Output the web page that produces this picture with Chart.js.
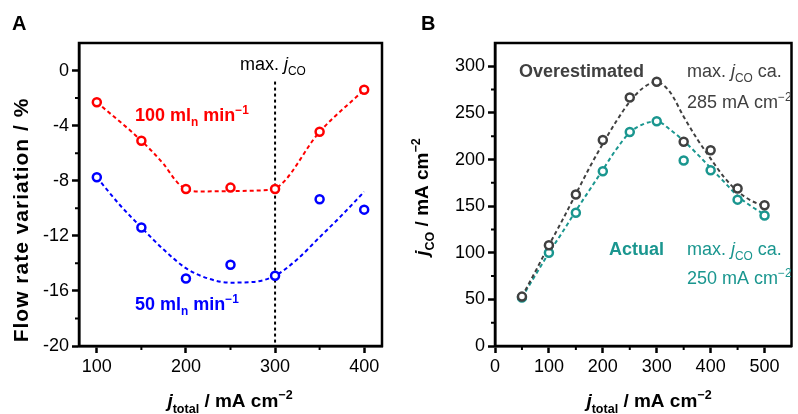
<!DOCTYPE html>
<html>
<head>
<meta charset="utf-8">
<script src="https://cdn.jsdelivr.net/npm/chart.js@4.4.1/dist/chart.umd.min.js"></script>
<style>
  html, body { margin: 0; padding: 0; background: #fff; }
  #wrap { position: relative; width: 798px; height: 414px; overflow: hidden; }
  canvas { position: absolute; top: 0; }
  #chartA { left: 0; }
  #chartB { left: 400px; }
</style>
</head>
<body>
<div id="wrap">
  <canvas id="chartA" width="400" height="414"></canvas>
  <canvas id="chartB" width="398" height="414"></canvas>
</div>
<script>
const FONT = '"Liberation Sans", Arial, Helvetica, sans-serif';

// panel A - flow rate variation
const flowX = [100, 150, 200, 250, 300, 350, 400];
const flow100 = [-2.3, -5.1, -8.6, -8.5, -8.6, -4.45, -1.4];
const flow50 = [-7.75, -11.4, -15.1, -14.1, -14.9, -9.35, -10.1];
const fit100X = [100, 150, 175, 190, 200, 215, 250, 285, 300, 350, 400];
const fit100 = [-2.3, -5.1, -6.8, -8.1, -8.6, -8.78, -8.75, -8.7, -8.56, -4.45, -1.4];
const fit50X = [100, 125, 150, 175, 200, 225, 250, 275, 300, 325, 350, 375, 400];
const fit50 = [-7.75, -9.7, -11.4, -13.0, -14.35, -15.1, -15.4, -15.35, -14.9, -13.7, -12.1, -10.5, -8.8];
const maxJcoX = [300, 300];
const maxJcoY = [-0.8, -20];
const ticksAx = [100, 200, 300, 400];
const ticksAy = [-20, -16, -12, -8, -4, 0];
const minorAx = [150, 250, 350];
const minorAy = [-18, -14, -10, -6, -2];

// panel B - jCO vs jtotal
const jTotal = [50, 100, 150, 200, 250, 300, 350, 400, 450, 500];
const jcoOver = [53, 108, 162.5, 221, 266.5, 283.5, 219, 210, 169, 151];
const jcoActual = [52, 100, 143, 187.5, 229.5, 241, 199, 188.5, 157, 140];
const fitBX = [50, 75, 100, 125, 150, 175, 200, 225, 250, 275, 300, 325, 350, 375, 400, 425, 450, 475, 500];
const fitOver = [53, 80, 108, 135, 163, 191, 217, 241, 262, 277, 283, 272, 246, 222, 201, 181, 166, 156, 150];
const fitActual = [52, 76, 100, 122, 145, 167, 189, 211, 229, 238, 241, 232, 220, 206, 191, 176, 161, 150, 141];
const ticksBx = [0, 100, 200, 300, 400, 500];
const ticksBy = [0, 50, 100, 150, 200, 250, 300];
const minorBx = [50, 150, 250, 350, 450];
const minorBy = [25, 75, 125, 175, 225, 275];

const RED = '#ff0000';
const BLUE = '#0000ff';
const DARK = '#404040';
const TEAL = '#1a968f';

const xy = (xs, ys) => xs.map((x, i) => ({ x: x, y: ys[i] }));

// draw text with bold/italic/sub/sup runs: flags B I _ ^
function richText(ctx, runs, x, y, size, color, opts = {}) {
    ctx.save();
    ctx.letterSpacing = (opts.spacing || 0) + 'px';
    const parts = runs.map(([t, f = '']) => {
        const small = f.includes('_') || f.includes('^');
        const s = small ? size * 0.66 : size;
        const font = (f.includes('I') ? 'italic ' : '') + (f.includes('B') ? 'bold ' : '') + s + 'px ' + FONT;
        ctx.font = font;
        return { t, font, w: ctx.measureText(t).width, dy: f.includes('_') ? size * 0.3 : (f.includes('^') ? -size * 0.4 : 0) };
    });
    const total = parts.reduce((a, p) => a + p.w, 0);
    ctx.translate(x, y);
    if (opts.rotate) ctx.rotate(opts.rotate);
    ctx.fillStyle = color;
    ctx.textBaseline = 'alphabetic';
    ctx.textAlign = 'left';
    let cx = opts.center ? -total / 2 : 0;
    parts.forEach(p => {
        ctx.font = p.font;
        ctx.fillText(p.t, cx, p.dy);
        cx += p.w;
    });
    ctx.restore();
}

function boxAndMinor(minX, minY, texts) {
    return {
        id: 'decor',
        afterDraw(chart) {
            const { ctx, chartArea: a, scales } = chart;
            ctx.save();
            ctx.strokeStyle = '#000';
            ctx.lineWidth = 2.5;
            ctx.strokeRect(a.left, a.top, a.right - a.left, a.bottom - a.top);
            ctx.lineWidth = 2;
            ctx.beginPath();
            minX.forEach(v => {
                const px = scales.x.getPixelForValue(v);
                ctx.moveTo(px, a.bottom);
                ctx.lineTo(px, a.bottom + 4);
            });
            minY.forEach(v => {
                const py = scales.y.getPixelForValue(v);
                ctx.moveTo(a.left - 4, py);
                ctx.lineTo(a.left, py);
            });
            ctx.stroke();
            ctx.restore();
            texts(ctx);
        }
    };
}

function axisOpts(min, max, ticks, size) {
    return {
        type: 'linear',
        min: min,
        max: max,
        afterBuildTicks: s => { s.ticks = ticks.map(v => ({ value: v })); },
        afterFit: s => { if (s.isHorizontal()) s.height = size; else s.width = size; },
        grid: { display: true, drawOnChartArea: false, drawTicks: true, tickLength: 7, tickWidth: 2.5, tickColor: '#000' },
        border: { display: true, color: '#000', width: 2.5 },
        ticks: { color: '#000', font: { family: FONT, size: 18 }, padding: 3, maxRotation: 0 }
    };
}

function pointSet(data, color) {
    return { data: data, showLine: false, pointRadius: 4, pointBorderWidth: 2.5, pointBorderColor: color, pointBackgroundColor: '#fff', order: 0 };
}

function fitSet(data, color, dash) {
    return { data: data, showLine: true, pointRadius: 0, borderColor: color, borderWidth: 2, borderDash: dash, cubicInterpolationMode: 'monotone', order: 1 };
}

const common = {
    responsive: false,
    animation: false,
    plugins: { legend: { display: false }, tooltip: { enabled: false } }
};

// Panel A
new Chart(document.getElementById('chartA'), {
    type: 'scatter',
    data: {
        datasets: [
            pointSet(xy(flowX, flow100), RED),
            pointSet(xy(flowX, flow50), BLUE),
            fitSet(xy(fit100X, fit100), RED, [4, 3]),
            fitSet(xy(fit50X, fit50), BLUE, [4, 3]),
            Object.assign(fitSet(xy(maxJcoX, maxJcoY), '#000', [3, 3]), { cubicInterpolationMode: 'default', order: 2 })
        ]
    },
    options: Object.assign({}, common, {
        layout: { padding: { top: 43, right: 18, left: 0, bottom: 0 } },
        scales: {
            x: axisOpts(80, 420, ticksAx, 68),
            y: axisOpts(-20, 2, ticksAy, 79)
        }
    }),
    plugins: [boxAndMinor(minorAx, minorAy, ctx => {
        richText(ctx, [['A', 'B']], 12, 30, 20, '#000');
        richText(ctx, [['max. '], ['j', 'I'], ['CO', '_']], 240, 70, 18, '#000');
        richText(ctx, [['100 ml', 'B'], ['n', 'B_'], [' min', 'B'], ['\u22121', 'B^']], 135, 121, 18, RED);
        richText(ctx, [['50 ml', 'B'], ['n', 'B_'], [' min', 'B'], ['\u22121', 'B^']], 135, 310, 18, BLUE);
        richText(ctx, [['j', 'BI'], ['total', 'B_'], [' / mA cm', 'B'], ['\u22122', 'B^']], 230, 407, 19, '#000', { center: true });
        richText(ctx, [['Flow rate variation / %', 'B']], 28, 220, 21, '#000', { center: true, rotate: -Math.PI / 2, spacing: 1 });
    })]
});

// Panel B
new Chart(document.getElementById('chartB'), {
    type: 'scatter',
    data: {
        datasets: [
            pointSet(xy(jTotal, jcoOver), DARK),
            pointSet(xy(jTotal, jcoActual), TEAL),
            fitSet(xy(fitBX, fitOver), DARK, [4, 3]),
            fitSet(xy(fitBX, fitActual), TEAL, [4, 3])
        ]
    },
    options: Object.assign({}, common, {
        layout: { padding: { top: 43, right: 1, left: 0, bottom: 0 } },
        scales: {
            x: axisOpts(0, 550, ticksBx, 68),
            y: axisOpts(0, 325, ticksBy, 95)
        }
    }),
    plugins: [boxAndMinor(minorBx, minorBy, ctx => {
        richText(ctx, [['B', 'B']], 21, 30, 20, '#000');
        richText(ctx, [['Overestimated', 'B']], 119, 77, 18, DARK);
        richText(ctx, [['max. '], ['j', 'I'], ['CO', '_'], [' ca.']], 287, 77, 18, DARK);
        richText(ctx, [['285 mA cm'], ['\u22122', '^']], 287, 108, 18, DARK);
        richText(ctx, [['Actual', 'B']], 209, 255, 18, TEAL);
        richText(ctx, [['max. '], ['j', 'I'], ['CO', '_'], [' ca.']], 287, 255, 18, TEAL);
        richText(ctx, [['250 mA cm'], ['\u22122', '^']], 287, 284, 18, TEAL);
        richText(ctx, [['j', 'BI'], ['total', 'B_'], [' / mA cm', 'B'], ['\u22122', 'B^']], 249, 407, 19, '#000', { center: true });
        richText(ctx, [['j', 'BI'], ['CO', 'B_'], [' / mA cm', 'B'], ['\u22122', 'B^']], 28, 197, 19, '#000', { center: true, rotate: -Math.PI / 2 });
    })]
});
</script>
</body>
</html>
